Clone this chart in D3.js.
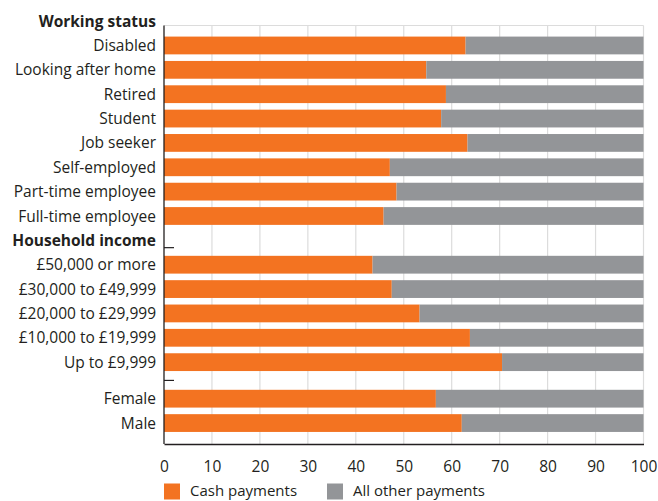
<!DOCTYPE html>
<html>
<head>
<meta charset="utf-8">
<script src="https://cdn.jsdelivr.net/npm/d3@7"></script>
<style>
  body { margin: 0; background: #fff; }
  svg { display: block; font-family: "Open Sans", sans-serif; }
</style>
</head>
<body>
<div id="chart"></div>
<script>
// data (share of payments made in cash, %)
const workingTitle = "Working status";
const workingCats = ["Disabled", "Looking after home", "Retired", "Student", "Job seeker",
                     "Self-employed", "Part-time employee", "Full-time employee"];
const workingCash = [62.9, 54.7, 58.8, 57.8, 63.3, 47.1, 48.5, 45.8];

const incomeTitle = "Household income";
const incomeCats = ["£50,000 or more", "£30,000 to £49,999", "£20,000 to £29,999",
                    "£10,000 to £19,999", "Up to £9,999"];
const incomeCash = [43.5, 47.5, 53.3, 63.8, 70.5];

const genderCats = ["Female", "Male"];
const genderCash = [56.7, 62.1];

const xTicks = [0, 10, 20, 30, 40, 50, 60, 70, 80, 90, 100];
const seriesNames = ["Cash payments", "All other payments"];
const colors = ["#f37321", "#939598"];

const width = 658, height = 501;
const textColor = "#231f20";

// build row slots: headers take one slot, the untitled gender group a half-slot gap
const rows = [], headers = [], seps = [];
let slot = 0;
headers.push({ label: workingTitle, slot: slot++ });
workingCats.forEach((c, i) => rows.push({ label: c, cash: workingCash[i], slot: slot++ }));
headers.push({ label: incomeTitle, slot: slot });
seps.push(slot + 0.3);
slot++;
incomeCats.forEach((c, i) => rows.push({ label: c, cash: incomeCash[i], slot: slot++ }));
seps.push(slot - 0.25);
slot += 0.5;
genderCats.forEach((c, i) => rows.push({ label: c, cash: genderCash[i], slot: slot++ }));

const x0 = 164, x1 = 643.5, plotTop = 25.5, plotBottom = 444;
const x = d3.scaleLinear().domain([0, 100]).range([x0, x1]);
const y = d3.scaleLinear().domain([0.18, 17.36]).range([plotTop, plotBottom]);
const step = y(1) - y(0);
const barH = step * 0.73;

const svg = d3.select("#chart").append("svg")
    .attr("width", width).attr("height", height);

// grid
svg.append("g")
  .selectAll("line")
  .data(xTicks.slice(1))
  .join("line")
    .attr("x1", d => x(d)).attr("x2", d => x(d))
    .attr("y1", plotTop).attr("y2", plotBottom)
    .attr("stroke", "#dcdcdc").attr("stroke-width", 1.2);
svg.append("line")
    .attr("x1", x0).attr("x2", x1).attr("y1", plotTop).attr("y2", plotTop)
    .attr("stroke", "#dcdcdc").attr("stroke-width", 1.2);

// bars
const bars = svg.append("g").selectAll("g").data(rows).join("g");
bars.append("rect")
    .attr("x", x(0))
    .attr("y", d => y(d.slot) - barH / 2)
    .attr("width", d => x(d.cash) - x(0))
    .attr("height", barH)
    .attr("fill", colors[0]);
bars.append("rect")
    .attr("x", d => x(d.cash))
    .attr("y", d => y(d.slot) - barH / 2)
    .attr("width", d => x(100) - x(d.cash))
    .attr("height", barH)
    .attr("fill", colors[1]);

// category labels
svg.append("g")
  .selectAll("text")
  .data(rows)
  .join("text")
    .attr("x", 156)
    .attr("y", d => y(d.slot))
    .attr("dy", "0.36em")
    .attr("text-anchor", "end")
    .attr("font-size", 15.5)
    .attr("fill", textColor)
    .text(d => d.label);

svg.append("g")
  .selectAll("text")
  .data(headers)
  .join("text")
    .attr("x", 156)
    .attr("y", d => y(d.slot))
    .attr("dy", "0.36em")
    .attr("text-anchor", "end")
    .attr("font-size", 15.5)
    .attr("font-weight", "bold")
    .attr("fill", textColor)
    .text(d => d.label);

// axes
svg.append("g")
    .attr("transform", `translate(0,${plotBottom})`)
    .call(d3.axisBottom(x).tickValues(xTicks).tickSize(0).tickPadding(17))
    .call(g => g.select(".domain").attr("stroke", textColor).attr("stroke-width", 1.3))
    .call(g => g.selectAll("text")
        .attr("font-size", 15.5)
        .attr("font-family", "Open Sans, sans-serif")
        .attr("fill", textColor));

svg.append("line")
    .attr("x1", x0).attr("x2", x0).attr("y1", plotTop).attr("y2", plotBottom)
    .attr("stroke", textColor).attr("stroke-width", 1.3);

svg.append("g")
  .selectAll("line")
  .data(seps)
  .join("line")
    .attr("x1", x0).attr("x2", x0 + 10)
    .attr("y1", d => y(d)).attr("y2", d => y(d))
    .attr("stroke", textColor).attr("stroke-width", 1.2);

// legend
const legendX = [164, 327];
const legend = svg.append("g").selectAll("g").data(seriesNames).join("g")
    .attr("transform", (d, i) => `translate(${legendX[i]},483.5)`);
legend.append("rect")
    .attr("width", 16).attr("height", 16)
    .attr("fill", (d, i) => colors[i]);
legend.append("text")
    .attr("x", 26).attr("y", 7).attr("dy", "0.36em")
    .attr("font-size", 15)
    .attr("fill", textColor)
    .text(d => d);
</script>
</body>
</html>
